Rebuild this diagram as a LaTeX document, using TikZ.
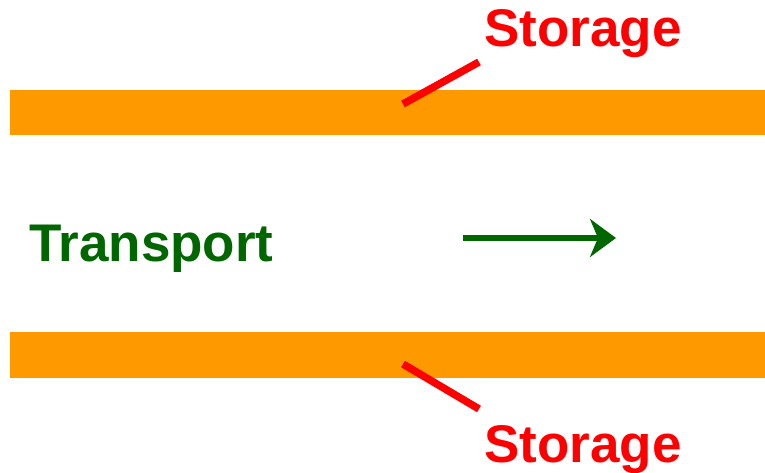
\documentclass[tikz,border=0pt]{standalone}
\usepackage{fontspec}
\setmainfont{Liberation Sans}
\usetikzlibrary{arrows.meta}
\definecolor{barorange}{HTML}{FF9900}
\definecolor{labred}{HTML}{FF0000}
\definecolor{trgreen}{HTML}{006600}
\begin{document}
\begin{tikzpicture}[x=1pt,y=1pt,
  bar/.style={fill=barorange,draw=none},
  lbl/.style={anchor=base west,inner sep=0pt,font=\fontsize{53}{60}\selectfont\bfseries},
  leader/.style={draw=labred,line width=7.5pt}]
\useasboundingbox (0,0) rectangle (765,472);
\fill[bar] (10,336.5) rectangle (765,382);
\fill[bar] (10,94) rectangle (765,140);
\node[lbl,text=labred] (st) at (484,425) {Storage};
\node[lbl,text=labred] (sb) at (484,10) {Storage};
\node[lbl,text=trgreen] (tr) at (29,211) {Transport};
\coordinate (ta) at (403,368);
\coordinate (tb) at (479,410);
\coordinate (ba) at (403,108);
\coordinate (bb) at (479,63);
\draw[leader] (ta) -- (tb);
\draw[leader] (ba) -- (bb);
\coordinate (a1) at (463,234);
\coordinate (a2) at (616,234);
\draw[trgreen,line width=6pt,-{Stealth[length=26pt,width=38pt,inset=8pt]}] (a1) -- (a2);
\end{tikzpicture}
\end{document}
